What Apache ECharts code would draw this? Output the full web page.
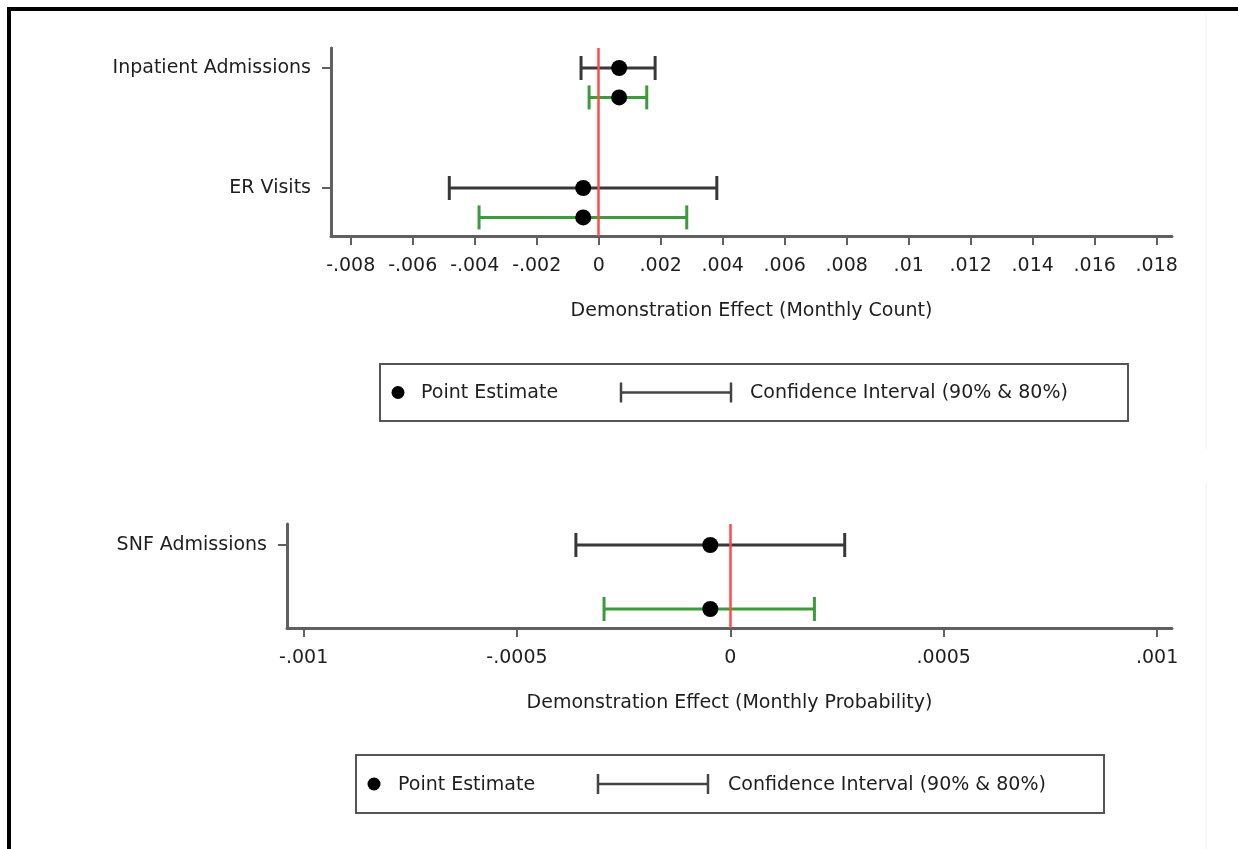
<!DOCTYPE html>
<html>
<head>
<meta charset="utf-8">
<script src="https://cdn.jsdelivr.net/npm/echarts@6/dist/echarts.min.js"></script>
<style>
  html, body { margin: 0; padding: 0; background: #fff; }
  #chart { width: 1238px; height: 849px; }
</style>
</head>
<body>
<div id="chart"></div>
<script>
// ---- Data: monthly count outcomes ----
const countCategories = ['Inpatient Admissions', 'ER Visits'];
const countPoint = [0.00066, -0.0005];
const countCi90Low = [-0.00057, -0.00482];
const countCi90High = [0.00182, 0.00381];
const countCi80Low = [-0.00031, -0.00386];
const countCi80High = [0.00155, 0.00284];
const countTicks = [-0.008, -0.006, -0.004, -0.002, 0, 0.002, 0.004, 0.006, 0.008, 0.01, 0.012, 0.014, 0.016, 0.018];

// ---- Data: monthly probability outcomes ----
const probCategories = ['SNF Admissions'];
const probPoint = [-0.000047];
const probCi90Low = [-0.000362];
const probCi90High = [0.000268];
const probCi80Low = [-0.000296];
const probCi80High = [0.000197];
const probTicks = [-0.001, -0.0005, 0, 0.0005, 0.001];

// ---- Styling ----
const FONT = 'DejaVu Sans';
const FS = 19;
const TEXT = '#1e1e1e';
const AXIS = '#606060';
const CI90 = '#383838';
const CI80 = '#3d9a3d';
const ZERO = '#ff4a4a';

function fmt(v) {
  const s = String(v);
  return s.replace(/^(-?)0\./, '$1.');
}

// vertical layout of each panel (in y-axis units): 90% row at index, 80% row below it
const panels = [
  { cats: countCategories, point: countPoint, lo90: countCi90Low, hi90: countCi90High,
    lo80: countCi80Low, hi80: countCi80High, ticks: countTicks, offset80: 0.245,
    xMin: -0.008636, xMax: 0.018494, yMin: -0.1667, yMax: 1.4,
    grid: { left: 331, right: 66, top: 48, height: 188 },
    title: 'Demonstration Effect (Monthly Count)' },
  { cats: probCategories, point: probPoint, lo90: probCi90Low, hi90: probCi90High,
    lo80: probCi80Low, hi80: probCi80High, ticks: probTicks, offset80: 1,
    xMin: -0.001039, xMax: 0.001035, yMin: -0.328, yMax: 1.297,
    grid: { left: 287, right: 66, top: 524, height: 104 },
    title: 'Demonstration Effect (Monthly Probability)' }
];

function ciRender(color) {
  return function (params, api) {
    const y = api.value(2);
    const a = api.coord([api.value(0), y]);
    const b = api.coord([api.value(1), y]);
    const h = 12;
    const style = { stroke: color, lineWidth: 3 };
    return {
      type: 'group',
      children: [
        { type: 'line', shape: { x1: a[0], y1: a[1], x2: b[0], y2: b[1] }, style },
        { type: 'line', shape: { x1: a[0], y1: a[1] - h, x2: a[0], y2: a[1] + h }, style },
        { type: 'line', shape: { x1: b[0], y1: b[1] - h, x2: b[0], y2: b[1] + h }, style }
      ]
    };
  };
}

const grids = [], xAxes = [], yAxes = [], series = [];
panels.forEach((p, i) => {
  grids.push(Object.assign({ containLabel: false }, p.grid));
  xAxes.push({
    type: 'value', gridIndex: i, min: p.xMin, max: p.xMax,
    splitLine: { show: false },
    axisLine: { show: true, onZero: false, lineStyle: { color: AXIS, width: 3 } },
    axisTick: { show: true, length: 9, customValues: p.ticks, lineStyle: { color: AXIS, width: 2 } },
    axisLabel: { customValues: p.ticks, formatter: fmt, margin: 21,
      fontFamily: FONT, fontSize: FS, color: TEXT },
    name: p.title, nameLocation: 'middle', nameGap: 66,
    nameTextStyle: { fontFamily: FONT, fontSize: FS, color: TEXT }
  });
  const rows = p.cats.map((_, k) => k);
  yAxes.push({
    type: 'value', gridIndex: i, inverse: true, min: p.yMin, max: p.yMax,
    splitLine: { show: false },
    axisLine: { show: true, onZero: false, lineStyle: { color: AXIS, width: 3 } },
    axisTick: { show: true, length: 9, customValues: rows, lineStyle: { color: AXIS, width: 2 } },
    axisLabel: { customValues: rows, formatter: v => p.cats[Math.round(v)], margin: 20,
      fontFamily: FONT, fontSize: FS, color: TEXT }
  });
  const d90 = p.cats.map((_, k) => [p.lo90[k], p.hi90[k], k]);
  const d80 = p.cats.map((_, k) => [p.lo80[k], p.hi80[k], k + p.offset80]);
  const pts = [];
  p.cats.forEach((_, k) => {
    pts.push([p.point[k], k]);
    pts.push([p.point[k], k + p.offset80]);
  });
  series.push({
    type: 'custom', xAxisIndex: i, yAxisIndex: i, z: 2, silent: true,
    renderItem: ciRender(CI90), encode: { x: [0, 1], y: 2 }, data: d90
  });
  series.push({
    type: 'custom', xAxisIndex: i, yAxisIndex: i, z: 2, silent: true,
    renderItem: ciRender(CI80), encode: { x: [0, 1], y: 2 }, data: d80
  });
  series.push({
    type: 'line', xAxisIndex: i, yAxisIndex: i, z: 4, data: [], silent: true,
    markLine: {
      silent: true, symbol: 'none', label: { show: false },
      lineStyle: { color: ZERO, width: 2.5, type: 'solid', opacity: 1 },
      data: [{ xAxis: 0 }]
    }
  });
  series.push({
    type: 'scatter', xAxisIndex: i, yAxisIndex: i, z: 6, silent: true,
    symbol: 'circle', symbolSize: 16, itemStyle: { color: '#000', opacity: 1 }, data: pts
  });
});

// legend box drawn as graphics
function legendBox(x, y, w, h, dotX, textX, lineX1, lineX2, ciTextX) {
  const cy = y + h / 2;
  return {
    type: 'group',
    children: [
      { type: 'rect', shape: { x: x, y: y, width: w, height: h },
        style: { fill: '#fff', stroke: '#555', lineWidth: 2 } },
      { type: 'circle', shape: { cx: dotX, cy: cy, r: 6.5 }, style: { fill: '#000' } },
      { type: 'text', x: textX, y: cy + 1,
        style: { text: 'Point Estimate', font: FS + 'px "' + FONT + '"', fill: TEXT, verticalAlign: 'middle' } },
      { type: 'line', shape: { x1: lineX1, y1: cy, x2: lineX2, y2: cy }, style: { stroke: '#444', lineWidth: 2.5 } },
      { type: 'line', shape: { x1: lineX1, y1: cy - 10, x2: lineX1, y2: cy + 10 }, style: { stroke: '#444', lineWidth: 2.5 } },
      { type: 'line', shape: { x1: lineX2, y1: cy - 10, x2: lineX2, y2: cy + 10 }, style: { stroke: '#444', lineWidth: 2.5 } },
      { type: 'text', x: ciTextX, y: cy + 1,
        style: { text: 'Confidence Interval (90% & 80%)', font: FS + 'px "' + FONT + '"', fill: TEXT, verticalAlign: 'middle' } }
    ]
  };
}

const graphics = [
  legendBox(380, 364, 748, 57, 398, 421, 621, 731, 750),
  legendBox(356, 755, 748, 58, 374, 398, 598, 708, 728),
  // page frame
  { type: 'rect', shape: { x: 7, y: 7, width: 1231, height: 4 }, style: { fill: '#000' } },
  { type: 'rect', shape: { x: 7, y: 7, width: 4, height: 842 }, style: { fill: '#000' } },
  { type: 'line', shape: { x1: 1206, y1: 14, x2: 1206, y2: 449 }, style: { stroke: '#eef1ee', lineWidth: 1 } },
  { type: 'line', shape: { x1: 1206, y1: 482, x2: 1206, y2: 849 }, style: { stroke: '#eef1ee', lineWidth: 1 } }
];

const chart = echarts.init(document.getElementById('chart'), null, { renderer: 'canvas' });
chart.setOption({
  animation: false,
  backgroundColor: '#fff',
  grid: grids,
  xAxis: xAxes,
  yAxis: yAxes,
  series: series,
  graphic: graphics
});
</script>
</body>
</html>
